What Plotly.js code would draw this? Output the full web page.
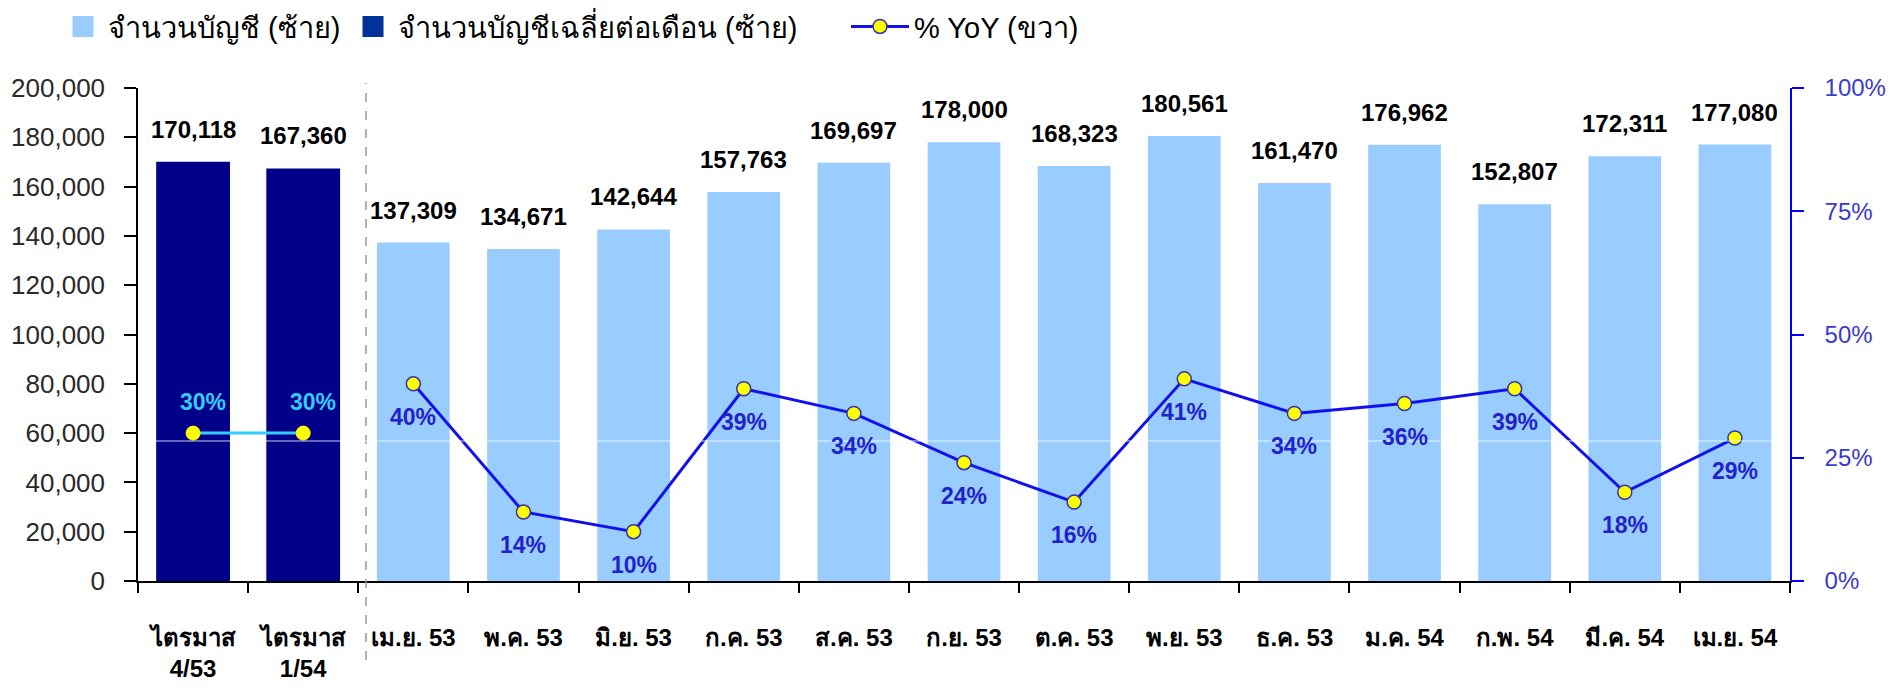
<!DOCTYPE html>
<html>
<head>
<meta charset="utf-8">
<script src="https://cdn.plot.ly/plotly-3.0.1.min.js"></script>
<style>
  html, body { margin: 0; padding: 0; background: #fff; }
  #chart { width: 1890px; height: 699px; }
</style>
</head>
<body>
<div id="chart"></div>
<script>
const categories = ['ไตรมาส<br>4/53', 'ไตรมาส<br>1/54', 'เม.ย. 53', 'พ.ค. 53', 'มิ.ย. 53', 'ก.ค. 53', 'ส.ค. 53',
    'ก.ย. 53', 'ต.ค. 53', 'พ.ย. 53', 'ธ.ค. 53', 'ม.ค. 54', 'ก.พ. 54', 'มี.ค. 54', 'เม.ย. 54'];
const quarterCats = categories.slice(0, 2);
const monthCats = categories.slice(2);

const quarterAccounts = [170118, 167360];
const monthAccounts = [137309, 134671, 142644, 157763, 169697, 178000, 168323, 180561, 161470, 176962, 152807, 172311, 177080];
const quarterYoY = [30, 30];
const monthYoY = [40, 14, 10, 39, 34, 24, 16, 41, 34, 36, 39, 18, 29];

const fmt = v => v.toLocaleString('en-US');
const FONT = 'Liberation Sans, Arial, sans-serif';

const traces = [
    {
        type: 'bar', name: 'จำนวนบัญชี (ซ้าย)', showlegend: false,
        x: monthCats, y: monthAccounts,
        marker: { color: '#99ccff' }, width: 0.66
    },
    {
        type: 'bar', name: 'จำนวนบัญชีเฉลี่ยต่อเดือน (ซ้าย)', showlegend: false,
        x: quarterCats, y: quarterAccounts,
        marker: { color: '#000088' }, width: 0.67
    },
    {
        type: 'scatter', mode: 'lines+markers', name: '% YoY (ขวา)', legend: 'legend3',
        x: monthCats, y: monthYoY, yaxis: 'y2',
        line: { color: '#1111ee', width: 3 },
        marker: { color: '#ffff00', size: 14, line: { color: '#3333aa', width: 1.5 } }
    },
    {
        type: 'scatter', mode: 'lines+markers', showlegend: false,
        x: quarterCats, y: quarterYoY, yaxis: 'y2',
        line: { color: '#33ccff', width: 3 },
        marker: { color: '#ffff00', size: 14, line: { color: '#ffff00', width: 1 } }
    },
    // legend keys with large square swatches
    {
        type: 'scatter', mode: 'markers', name: 'จำนวนบัญชี (ซ้าย)', legend: 'legend',
        x: [null], y: [null], hoverinfo: 'skip',
        marker: { symbol: 'square', size: 26, color: '#99ccff', line: { color: '#99ccff', width: 5 } }
    },
    {
        type: 'scatter', mode: 'markers', name: 'จำนวนบัญชีเฉลี่ยต่อเดือน (ซ้าย)', legend: 'legend2',
        x: [null], y: [null], hoverinfo: 'skip',
        marker: { symbol: 'square', size: 26, color: '#003399', line: { color: '#003399', width: 5 } }
    }
];

const annotations = [];
const allCats = quarterCats.concat(monthCats);
const allAccounts = quarterAccounts.concat(monthAccounts);
allCats.forEach((c, i) => {
    annotations.push({
        x: c, y: allAccounts[i], xref: 'x', yref: 'y', text: fmt(allAccounts[i]), showarrow: false,
        yanchor: 'bottom', yshift: 17,
        font: { family: FONT, size: 24, color: '#000', weight: 'bold' }
    });
});
monthCats.forEach((c, i) => {
    annotations.push({
        x: c, y: monthYoY[i], xref: 'x', yref: 'y2', text: monthYoY[i] + '%', showarrow: false,
        yshift: -33,
        font: { family: FONT, size: 23, color: '#2222cc', weight: 'bold' }
    });
});
quarterCats.forEach((c, i) => {
    annotations.push({
        x: c, y: quarterYoY[i], xref: 'x', yref: 'y2', text: quarterYoY[i] + '%', showarrow: false,
        yshift: 31, xshift: 10,
        font: { family: FONT, size: 23, color: '#33ccff', weight: 'bold' }
    });
});

const legendBase = {
    orientation: 'h', xref: 'container', yref: 'container',
    y: 0.962, xanchor: 'left', yanchor: 'middle',
    font: { size: 29, color: '#000' }, itemwidth: 40, bgcolor: 'rgba(0,0,0,0)'
};

const layout = {
    width: 1890, height: 699,
    margin: { l: 138, r: 100, t: 88, b: 118 },
    paper_bgcolor: '#fff', plot_bgcolor: '#fff',
    font: { family: FONT, color: '#000' },
    barmode: 'overlay',
    showlegend: true,
    legend: Object.assign({}, legendBase, { x: 58 / 1890 }),
    legend2: Object.assign({}, legendBase, { x: 348 / 1890 }),
    legend3: Object.assign({}, legendBase, { x: 846 / 1890, itemwidth: 58 }),
    xaxis: {
        type: 'category', categoryorder: 'array', categoryarray: categories,
        range: [-0.5, 14.5],
        showline: true, linecolor: '#000', linewidth: 1.5,
        ticks: 'outside', ticklen: 10, tickcolor: '#000', tickwidth: 1.5, tickson: 'boundaries',
        ticklabelstandoff: 34,
        tickfont: { size: 24, color: '#000', weight: 'bold' },
        showgrid: false, zeroline: false
    },
    xaxis2: {
        overlaying: 'x', anchor: 'y', range: [-0.5, 14.5], tick0: -0.5, dtick: 1,
        ticks: 'inside', ticklen: 10, tickcolor: '#000', tickwidth: 1.5,
        showticklabels: false, showgrid: false, zeroline: false, showline: false
    },
    yaxis: {
        range: [0, 200000], dtick: 20000, tickformat: ',d',
        showline: true, linecolor: '#000', linewidth: 1.5,
        ticks: 'outside', ticklen: 12, tickcolor: '#000', tickwidth: 1.5,
        ticklabelstandoff: 14,
        tickfont: { size: 26, color: '#2a2a2a' },
        showgrid: false, zeroline: false
    },
    yaxis3: {
        overlaying: 'y', side: 'left', anchor: 'x', range: [0, 200000], dtick: 20000,
        ticks: 'inside', ticklen: 12, tickcolor: '#000', tickwidth: 1.5,
        showticklabels: false, showgrid: false, zeroline: false, showline: false
    },
    yaxis2: {
        overlaying: 'y', side: 'right', anchor: 'x', range: [0, 100], dtick: 25, ticksuffix: '%',
        showline: true, linecolor: '#0000ff', linewidth: 1.5,
        ticks: 'outside', ticklen: 12, tickcolor: '#0000ff', tickwidth: 1.5,
        ticklabelstandoff: 16,
        tickfont: { size: 24, color: '#3a3acc' },
        showgrid: false, zeroline: false
    },
    yaxis4: {
        overlaying: 'y', side: 'right', anchor: 'x', range: [0, 100], dtick: 25,
        ticks: 'inside', ticklen: 12, tickcolor: '#0000ff', tickwidth: 1.5,
        showticklabels: false, showgrid: false, zeroline: false, showline: false
    },
    shapes: [
        {
            type: 'line', xref: 'x', yref: 'paper', x0: 1.57, x1: 1.57, y0: -0.16, y1: 1.01,
            line: { color: '#999', width: 1.5, dash: 'dash' }
        },
        {
            type: 'line', xref: 'paper', yref: 'paper', x0: 0, x1: 1, y0: 0.284, y1: 0.284,
            line: { color: '#ffffff', width: 1 }, opacity: 0.8
        }
    ],
    annotations: annotations
};

Plotly.newPlot('chart', traces, layout, { displayModeBar: false, responsive: false });
</script>
</body>
</html>
